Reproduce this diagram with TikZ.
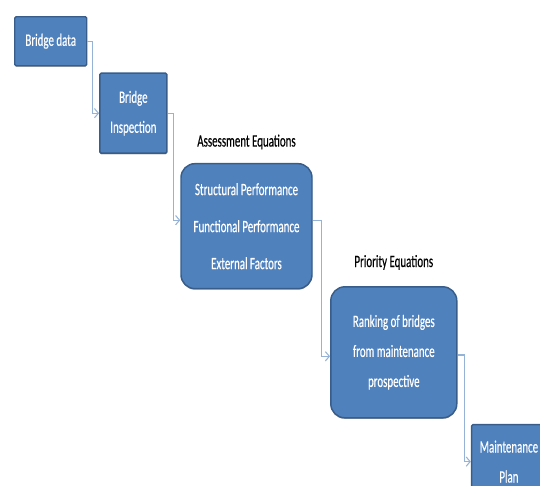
\documentclass[tikz,border=0pt]{standalone}
\usepackage{fontspec}
\setmainfont{Carlito}[FakeStretch=0.63,FakeBold=0.4]
\usepackage{tikz}
\usetikzlibrary{arrows.meta,positioning,shadows}
\definecolor{boxfill}{RGB}{79,129,189}
\definecolor{boxline}{RGB}{56,93,138}
\definecolor{connline}{RGB}{149,179,215}

\begin{document}
\begin{tikzpicture}[
  box/.style={rectangle,draw=boxline,line width=1.1pt,fill=boxfill,
              rounded corners=1pt,inner sep=0pt,text=white,align=center,
              font=\fontsize{13}{22.5}\selectfont,
              drop shadow={shadow xshift=0pt,shadow yshift=-0.8pt,
                           fill=black,opacity=0.35}},
  rbox/.style={box,rounded corners=10.5pt},
  eqlabel/.style={inner sep=0pt,font=\fontsize{13}{15}\selectfont},
  conn/.style={draw=connline,line width=0.8pt,
               -{Straight Barb[length=3pt,width=7pt]}}
]
\useasboundingbox (0,0) rectangle (405pt,-364.5pt);
\clip (0,0) rectangle (405pt,-364.5pt);

\node[box,minimum width=54pt,minimum height=36.75pt,anchor=north west]
  (data) at (10.5pt,-12pt) {Bridge data};
\node[box,minimum width=50.25pt,minimum height=60pt]
  (insp) [below right=4.5pt and 8.75pt of data] {Bridge\\Inspection};
\node[rbox,minimum width=98.25pt,minimum height=93.75pt,
      font=\fontsize{13}{27.75}\selectfont]
  (assess) [below right=6.75pt and 9.5pt of insp]
  {Structural Performance\\Functional Performance\\External Factors};
\node[rbox,minimum width=94.5pt,minimum height=98.25pt]
  (rank) [below right=-2.5pt and 13pt of assess]
  {Ranking of bridges\\from maintenance\\prospective};
\node[box,minimum width=56pt,minimum height=55.5pt]
  (plan) [below right=4pt and 10pt of rank] {Maintenance\\Plan};

\node[eqlabel] (assesslbl) [above=10pt of assess] {Assessment Equations};
\node[eqlabel] (ranklbl)   [above=12pt of rank]   {Priority Equations};

\draw[conn] (data.east) -- ++(4pt,0) |- (insp.west);
\draw[conn] (insp.east) -- ++(4.5pt,0) |- ([yshift=4.5pt]assess.west);
\draw[conn] ([yshift=4.5pt]assess.east) -- ++(6.75pt,0) |- ([yshift=-3pt]rank.west);
\draw[conn] ([yshift=-2pt]rank.east) -- ++(5.25pt,0) |- (plan.west);
\end{tikzpicture}
\end{document}
